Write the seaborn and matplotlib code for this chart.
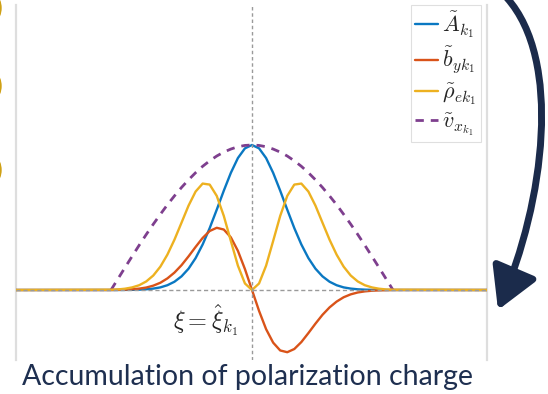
import numpy as np
import pandas as pd
import matplotlib
matplotlib.use("Agg")
import matplotlib.pyplot as plt
import seaborn as sns
from matplotlib.patches import FancyArrowPatch, Circle
from matplotlib.path import Path
from matplotlib.transforms import IdentityTransform

# ---------------- data (normalised units) ----------------
xi = [-1.68, -1.00, -0.95, -0.90, -0.85, -0.80, -0.75, -0.70, -0.65, -0.60, -0.55,
      -0.50, -0.45, -0.40, -0.35, -0.30, -0.25, -0.20, -0.15, -0.10, -0.05,
      0.00, 0.05, 0.10, 0.15, 0.20, 0.25, 0.30, 0.35, 0.40, 0.45, 0.50,
      0.55, 0.60, 0.65, 0.70, 0.75, 0.80, 0.85, 0.90, 0.95, 1.00, 1.68]

A_k1 = [0.0, 0.0, 0.0, 0.0005, 0.001, 0.0024, 0.0049, 0.0097, 0.018, 0.033, 0.057,
        0.094, 0.147, 0.220, 0.314, 0.427, 0.554, 0.685, 0.808, 0.910, 0.977,
        1.000, 0.977, 0.910, 0.808, 0.685, 0.554, 0.427, 0.314, 0.220, 0.147, 0.094,
        0.057, 0.033, 0.018, 0.0097, 0.0049, 0.0024, 0.001, 0.0005, 0.0, 0.0, 0.0]

b_yk1 = [0.0, 0.0, 0.001, 0.0025, 0.005, 0.0095, 0.017, 0.030, 0.050, 0.080, 0.120,
         0.171, 0.232, 0.297, 0.359, 0.407, 0.429, 0.417, 0.363, 0.270, 0.144,
         0.000, -0.144, -0.270, -0.363, -0.417, -0.429, -0.407, -0.359, -0.297, -0.232, -0.171,
         -0.120, -0.080, -0.050, -0.030, -0.017, -0.0095, -0.005, -0.0025, -0.001, 0.0, 0.0]

rho_ek1 = [0.0, 0.002, 0.004, 0.009, 0.018, 0.033, 0.059, 0.100, 0.161, 0.244, 0.347,
           0.464, 0.582, 0.679, 0.734, 0.727, 0.649, 0.511, 0.338, 0.168, 0.045,
           0.000, 0.045, 0.168, 0.338, 0.511, 0.649, 0.727, 0.734, 0.679, 0.582, 0.464,
           0.347, 0.244, 0.161, 0.100, 0.059, 0.033, 0.018, 0.009, 0.004, 0.002, 0.0]

xi_v = [-1.00, -0.95, -0.90, -0.85, -0.80, -0.75, -0.70, -0.65, -0.60, -0.55,
        -0.50, -0.45, -0.40, -0.35, -0.30, -0.25, -0.20, -0.15, -0.10, -0.05,
        0.00, 0.05, 0.10, 0.15, 0.20, 0.25, 0.30, 0.35, 0.40, 0.45, 0.50,
        0.55, 0.60, 0.65, 0.70, 0.75, 0.80, 0.85, 0.90, 0.95, 1.00]
v_xk1 = [0.000, 0.078, 0.156, 0.233, 0.309, 0.383, 0.454, 0.522, 0.588, 0.649,
         0.707, 0.760, 0.809, 0.853, 0.891, 0.924, 0.951, 0.972, 0.988, 0.997,
         1.000, 0.997, 0.988, 0.972, 0.951, 0.924, 0.891, 0.853, 0.809, 0.760, 0.707,
         0.649, 0.588, 0.522, 0.454, 0.383, 0.309, 0.233, 0.156, 0.078, 0.000]

labels = [r'$\tilde{A}_{k_1}$', r'$\tilde{b}_{yk_1}$',
          r'$\tilde{\rho}_{ek_1}$', r'$\tilde{v}_{x_{k_1}}$']
colors = ['#0A78C2', '#D95319', '#EDB120', '#7E3F8E']
caption = 'Accumulation of polarization charge'
marker_text = r'$\xi = \hat{\xi}_{k_1}$'

# ---------------- figure ----------------
sns.set_style('white')
plt.rcParams['mathtext.fontset'] = 'cm'

W, H = 548, 394
fig = plt.figure(figsize=(W / 100, H / 100), dpi=100)
ax = fig.add_axes([16 / W, (H - 360) / H, 471 / W, 355 / H])

df = pd.DataFrame({'xi': xi, 'A': A_k1, 'b': b_yk1, 'rho': rho_ek1})
dv = pd.DataFrame({'xi': xi_v, 'v': v_xk1})

sns.lineplot(data=df, x='xi', y='A', ax=ax, color=colors[0], lw=1.7, label=labels[0], zorder=3)
sns.lineplot(data=df, x='xi', y='b', ax=ax, color=colors[1], lw=1.7, label=labels[1], zorder=3)
sns.lineplot(data=df, x='xi', y='rho', ax=ax, color=colors[2], lw=1.7, label=labels[2], zorder=4)
sns.lineplot(data=dv, x='xi', y='v', ax=ax, color=colors[3], lw=2.0, label=labels[3],
             dashes=False, zorder=3)
ax.lines[-1].set_linestyle((0, (3, 2.5)))

ax.axhline(0, color='#9A9A9A', lw=1.0, ls=(0, (3, 2)), zorder=5)
ax.axvline(0, color='#9A9A9A', lw=1.0, ls=(0, (2.5, 2)), zorder=5)

ax.set_xlim((16 - 252) / 141, (487 - 252) / 141)
ax.set_ylim((290 - 360) / 145, (290 - 5) / 145)
ax.set_xlabel('')
ax.set_ylabel('')
ax.set_xticks([])
ax.set_yticks([])
for s in ['top', 'bottom']:
    ax.spines[s].set_visible(False)
for s in ['left', 'right']:
    ax.spines[s].set_color('#DEDEDE')
    ax.spines[s].set_linewidth(1.6)

leg = ax.legend(loc='upper right', bbox_to_anchor=((481 - 16) / 471, 1.0),
                borderaxespad=0, fontsize=16, frameon=True, fancybox=False,
                handlelength=1.0, handletextpad=0.2, labelspacing=0.2,
                borderpad=0.2, edgecolor='#D8D8D8')
leg.get_frame().set_linewidth(0.8)

ax.text((206 - 252) / 141, (290 - 320) / 145, marker_text, fontsize=17.5,
        ha='center', va='center', color='#222222')

# caption
fig.text(248 / W, (H - 377) / H, caption, ha='center', va='center',
         fontsize=20.5, family='Lato', color='#1E2F50')

# slide decorations: curved arrow and gold bullets
arrow_path = Path([(507, H + 2), (562, H - 60), (545, H - 200), (498, H - 310)],
                  [Path.MOVETO, Path.CURVE4, Path.CURVE4, Path.CURVE4])
arrow = FancyArrowPatch(path=arrow_path,
                        arrowstyle='-|>,head_length=1.4,head_width=0.8',
                        mutation_scale=18, lw=5, color='#1B2B4B',
                        transform=IdentityTransform())
fig.add_artist(arrow)
for cy in [8, 86, 170]:
    fig.add_artist(Circle((-20, H - cy), 21, color='#CFA013', transform=IdentityTransform()))

fig.savefig('out.png', dpi=100)
